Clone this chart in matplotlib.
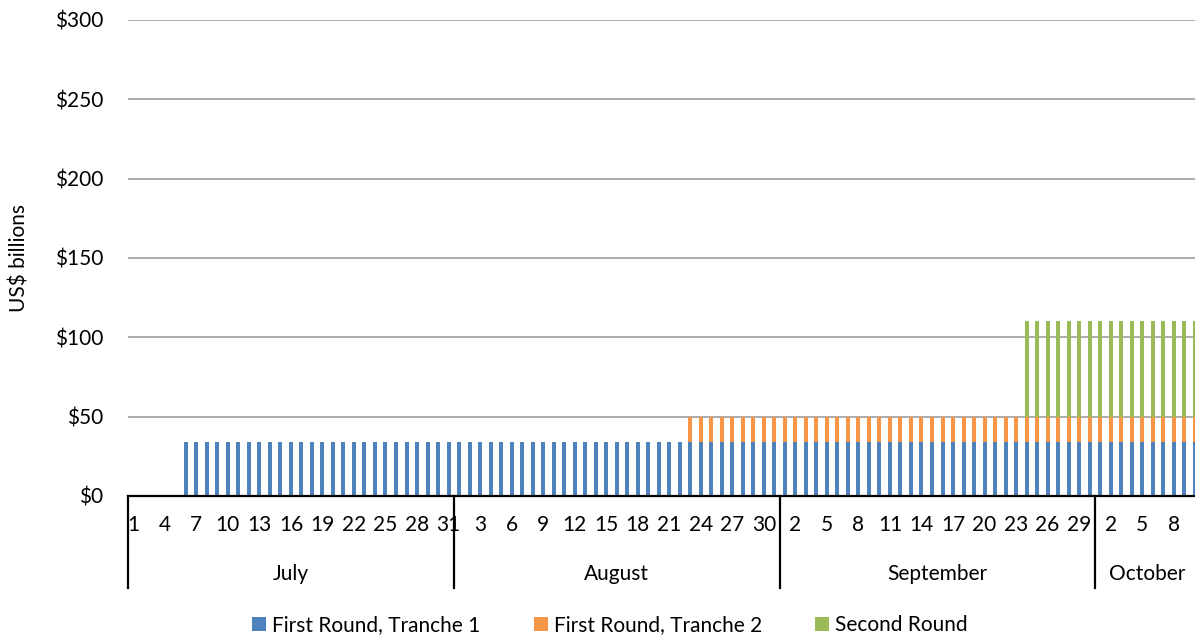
import pandas as pd
import numpy as np
import matplotlib
matplotlib.use('Agg')
import matplotlib.pyplot as plt
from matplotlib.ticker import FixedLocator, FuncFormatter
import matplotlib.transforms as mtransforms

# 日期範圍 (每日一根柱)
start_date = '2020-07-01'
end_date = '2020-10-10'

# 各批次: 名稱, 起始日, 每日金額 (US$ billions)
series_names = ['First Round, Tranche 1', 'First Round, Tranche 2', 'Second Round']
series_start = ['2020-07-06', '2020-08-23', '2020-09-24']
series_amount = [34, 16, 60]
series_colors = ['#4F81BD', '#F79646', '#9BBB59']

month_names = ['July', 'August', 'September', 'October']
y_ticks = [0, 50, 100, 150, 200, 250, 300]

plt.rcParams['font.family'] = ['Lato', 'DejaVu Sans']
FS = 15

days = pd.date_range(start=start_date, end=end_date)
x = np.arange(len(days))

W, H = 1195, 637
fig = plt.figure(figsize=(W / 100, H / 100), dpi=100)
ax_left, ax_right, ax_top, ax_bottom = 128, 1200, 20, 496
ax = fig.add_axes([ax_left / W, 1 - ax_bottom / H,
                   (ax_right - ax_left) / W, (ax_bottom - ax_top) / H])

# 堆疊柱狀圖
bottom = np.zeros(len(days))
handles = []
for name, start, amount, color in zip(series_names, series_start, series_amount, series_colors):
    vals = np.where(days >= pd.Timestamp(start), amount, 0)
    h = ax.bar(x, vals, width=0.38, bottom=bottom, color=color, label=name, zorder=3)
    handles.append(h)
    bottom = bottom + vals

ax.set_xlim(-0.5, len(days) - 0.5)
ax.set_ylim(0, 300)

# y 軸
ax.yaxis.set_major_locator(FixedLocator(y_ticks))
ax.yaxis.set_major_formatter(FuncFormatter(lambda v, p: f'${v:.0f}'))
ax.tick_params(axis='y', length=0, pad=18, labelsize=FS)
ax.grid(axis='y', color='#A6A6A6', linewidth=1.3, zorder=0)
ax.set_ylabel('US$ billions', fontsize=FS)
ax.yaxis.set_label_coords(-(ax_left - 30) / (ax_right - ax_left), 0.5)

for s in ['top', 'right', 'left']:
    ax.spines[s].set_visible(False)
ax.spines['bottom'].set_color('black')
ax.spines['bottom'].set_linewidth(1.6)
ax.spines['bottom'].set_zorder(4)

# x 軸: 每三天一個日期標籤
tick_idx = x[::3]
ax.set_xticks(tick_idx)
ax.set_xticklabels([str(days[i].day) for i in tick_idx])
ax.tick_params(axis='x', length=0, pad=14, labelsize=FS)

# 月份分組與分隔線
trans = mtransforms.blended_transform_factory(ax.transData, ax.transAxes)
sep_bottom = -(588 - ax_bottom) / (ax_bottom - ax_top)
label_y = -(574 - ax_bottom) / (ax_bottom - ax_top)
months = days.to_period('M')
bounds = [-0.5]
for m in months.unique():
    idx = np.where(months == m)[0]
    bounds.append(idx[-1] + 0.5)
for i, name in enumerate(month_names):
    ax.text((bounds[i] + bounds[i + 1]) / 2, label_y, name, transform=trans,
            ha='center', va='center', fontsize=FS)
for b in bounds:
    ax.plot([b, b], [0, sep_bottom], transform=trans, color='black',
            linewidth=1.6, clip_on=False, zorder=5)

fig.legend(handles=handles, labels=series_names, loc='center',
           bbox_to_anchor=(610 / W, 1 - 625 / H), ncol=3, frameon=False,
           fontsize=FS, handlelength=0.67, handleheight=0.67,
           handletextpad=0.3, columnspacing=2.55)

fig.savefig('out.png', dpi=100)
